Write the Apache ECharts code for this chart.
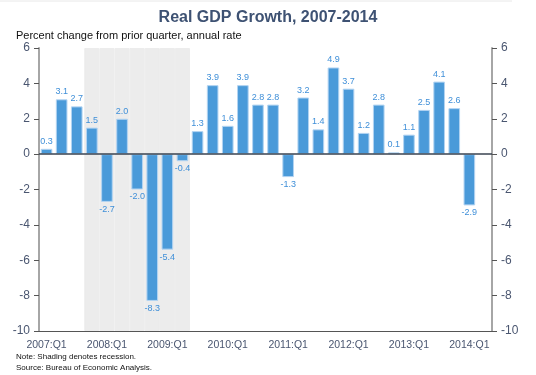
<!DOCTYPE html>
<html>
<head>
<meta charset="utf-8">
<script src="https://cdn.jsdelivr.net/npm/echarts@6/dist/echarts.min.js"></script>
<style>
  html, body { margin: 0; padding: 0; background: #fff; }
  #chart { width: 536px; height: 375px; }
</style>
</head>
<body>
<div id="chart"></div>
<script>
// quarters 2007:Q1 .. 2014:Q2 (last slot is empty)
var quarters = [];
for (var y = 2007; y <= 2014; y++) {
  for (var q = 1; q <= 4; q++) {
    if (y === 2014 && q > 2) break;
    quarters.push(y + ':Q' + q);
  }
}

// annualized real GDP growth, percent
var growth = [
  0.3, 3.1, 2.7, 1.5,
  -2.7, 2.0, -2.0, -8.3,
  -5.4, -0.4, 1.3, 3.9,
  1.6, 3.9, 2.8, 2.8,
  -1.3, 3.2, 1.4, 4.9,
  3.7, 1.2, 2.8, 0.1,
  1.1, 2.5, 4.1, 2.6,
  -2.9, null
];

var recessionStart = '2007:Q4';
var recessionEnd = '2009:Q2';

var yMin = -10;
var yMax = 6;

var labelColor = '#4a5670';
var shadeColor = '#ececec';

// shading bars span the full axis range within recession quarters
var i0 = quarters.indexOf(recessionStart);
var i1 = quarters.indexOf(recessionEnd);
var shadeUp = [];
var shadeDown = [];
for (var i = 0; i < quarters.length; i++) {
  var inRec = i >= i0 && i <= i1;
  shadeUp.push(inRec ? yMax : null);
  shadeDown.push(inRec ? yMin : null);
}

var chart = echarts.init(document.getElementById('chart'));

function valueAxis(pos) {
  return {
    type: 'value',
    position: pos,
    min: yMin,
    max: yMax,
    interval: 2,
    axisLine: { show: true, lineStyle: { color: '#a6a6a6', width: 2 } },
    axisTick: { show: true, length: 5, lineStyle: { color: '#555' } },
    axisLabel: { color: labelColor, fontSize: 12, margin: 9 },
    splitLine: { show: false }
  };
}

function shadeSeries(name, data) {
  return {
    name: name,
    type: 'bar',
    xAxisIndex: 1,
    data: data,
    barWidth: '100%',
    barGap: '-100%',
    silent: true,
    z: 1,
    itemStyle: { color: shadeColor, borderColor: shadeColor, borderWidth: 1 }
  };
}

var option = {
  animation: false,
  textStyle: { fontFamily: 'Liberation Sans, Arial' },
  graphic: [{
    type: 'line',
    shape: { x1: 0, y1: 1, x2: 512, y2: 1 },
    style: { stroke: '#e8e8e8', lineWidth: 1 }
  }],
  title: [{
    text: 'Real GDP Growth, 2007-2014',
    left: 'center',
    top: 5,
    textStyle: { fontSize: 16, fontWeight: 'bold', color: '#3e5273' }
  }, {
    text: 'Percent change from prior quarter, annual rate',
    left: 11,
    top: 25,
    textStyle: { fontSize: 11, fontWeight: 'normal', color: '#111' }
  }, {
    text: 'Note: Shading denotes recession.',
    left: 11,
    top: 348,
    textStyle: { fontSize: 8, fontWeight: 'normal', color: '#111' }
  }, {
    text: 'Source: Bureau of Economic Analysis.',
    left: 11,
    top: 359,
    textStyle: { fontSize: 8, fontWeight: 'normal', color: '#111' }
  }],
  grid: { left: 39, right: 44, top: 48, bottom: 44 },
  xAxis: [{
    type: 'category',
    data: quarters,
    position: 'bottom',
    axisLine: { onZero: false, lineStyle: { color: '#555', width: 1 } },
    axisTick: { interval: 3, length: 3, lineStyle: { color: '#777' } },
    axisLabel: { interval: 3, color: labelColor, fontSize: 10.5, margin: 9 }
  }, {
    type: 'category',
    data: quarters,
    show: false
  }],
  yAxis: [valueAxis('left'), valueAxis('right')],
  series: [
    shadeSeries('recession-up', shadeUp),
    shadeSeries('recession-down', shadeDown),
    {
      name: 'Real GDP',
      type: 'bar',
      data: growth.map(function (v) {
        return {
          value: v,
          label: { position: v < 0 ? 'bottom' : 'top' }
        };
      }),
      barCategoryGap: '23%',
      z: 3,
      itemStyle: { color: '#4a9ad9', borderColor: '#b3d4f2', borderWidth: 1 },
      label: {
        show: true,
        distance: 3,
        fontSize: 9,
        color: '#3f8fd8',
        formatter: function (p) { return p.value == null ? '' : p.value.toFixed(1); }
      },
      markLine: {
        silent: true,
        symbol: 'none',
        label: { show: false },
        lineStyle: { color: '#3a4350', type: 'solid', width: 1.5 },
        data: [{ yAxis: 0 }]
      }
    }
  ]
};

chart.setOption(option);
</script>
</body>
</html>
